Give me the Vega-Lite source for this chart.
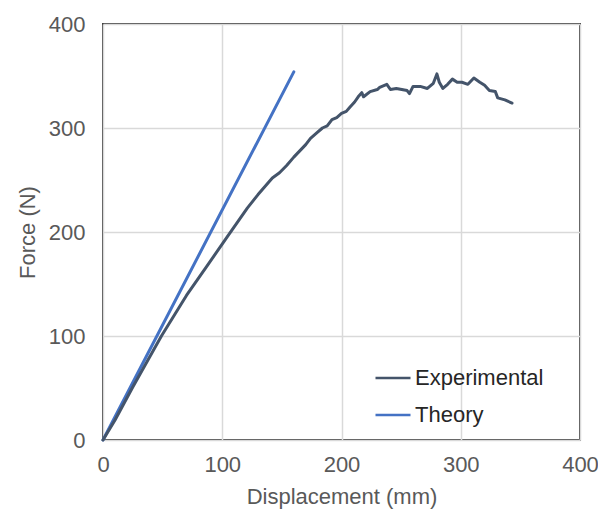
{
  "$schema": "https://vega.github.io/schema/vega-lite/v6.json",
  "width": 477,
  "height": 416,
  "autosize": {"type": "none"},
  "padding": {"left": 103, "top": 24, "right": 18, "bottom": 71},
  "background": "white",
  "config": {
    "font": "Liberation Sans",
    "view": {"stroke": "#404040", "strokeWidth": 2},
    "axis": {
      "gridColor": "#d9d9d9",
      "gridWidth": 1.5,
      "domain": false,
      "ticks": false,
      "labelFlush": false,
      "labelFont": "Liberation Sans",
      "labelFontSize": 22,
      "labelColor": "#595959",
      "titleFont": "Liberation Sans",
      "titleFontSize": 22,
      "titleFontWeight": "normal",
      "titleColor": "#595959"
    }
  },
  "data": {
    "values": [
      {"series": "Theory", "d": 0, "f": 0},
      {"series": "Theory", "d": 160, "f": 354},
      {"series": "Experimental", "d": 0, "f": 0},
      {"series": "Experimental", "d": 10, "f": 19},
      {"series": "Experimental", "d": 25, "f": 51},
      {"series": "Experimental", "d": 49, "f": 100},
      {"series": "Experimental", "d": 70, "f": 139},
      {"series": "Experimental", "d": 87, "f": 167},
      {"series": "Experimental", "d": 104, "f": 195},
      {"series": "Experimental", "d": 121, "f": 223},
      {"series": "Experimental", "d": 130, "f": 236},
      {"series": "Experimental", "d": 142, "f": 252},
      {"series": "Experimental", "d": 148, "f": 257},
      {"series": "Experimental", "d": 154, "f": 264},
      {"series": "Experimental", "d": 160, "f": 272},
      {"series": "Experimental", "d": 165, "f": 278},
      {"series": "Experimental", "d": 170, "f": 284},
      {"series": "Experimental", "d": 174, "f": 290},
      {"series": "Experimental", "d": 179, "f": 295},
      {"series": "Experimental", "d": 184, "f": 300},
      {"series": "Experimental", "d": 188, "f": 302},
      {"series": "Experimental", "d": 192, "f": 308},
      {"series": "Experimental", "d": 196, "f": 310},
      {"series": "Experimental", "d": 200, "f": 314},
      {"series": "Experimental", "d": 204, "f": 316},
      {"series": "Experimental", "d": 207, "f": 320},
      {"series": "Experimental", "d": 211, "f": 325},
      {"series": "Experimental", "d": 214, "f": 330},
      {"series": "Experimental", "d": 217, "f": 334},
      {"series": "Experimental", "d": 218.5, "f": 330},
      {"series": "Experimental", "d": 224, "f": 335},
      {"series": "Experimental", "d": 230, "f": 337},
      {"series": "Experimental", "d": 232, "f": 339},
      {"series": "Experimental", "d": 238, "f": 342},
      {"series": "Experimental", "d": 241, "f": 337},
      {"series": "Experimental", "d": 246, "f": 338},
      {"series": "Experimental", "d": 255, "f": 336},
      {"series": "Experimental", "d": 257, "f": 333},
      {"series": "Experimental", "d": 260, "f": 340},
      {"series": "Experimental", "d": 266, "f": 340},
      {"series": "Experimental", "d": 272, "f": 338},
      {"series": "Experimental", "d": 277, "f": 343},
      {"series": "Experimental", "d": 280, "f": 352},
      {"series": "Experimental", "d": 282, "f": 344},
      {"series": "Experimental", "d": 285, "f": 338},
      {"series": "Experimental", "d": 289, "f": 342},
      {"series": "Experimental", "d": 293, "f": 347},
      {"series": "Experimental", "d": 297, "f": 344},
      {"series": "Experimental", "d": 301, "f": 344},
      {"series": "Experimental", "d": 306, "f": 342},
      {"series": "Experimental", "d": 311, "f": 348},
      {"series": "Experimental", "d": 316, "f": 344},
      {"series": "Experimental", "d": 320, "f": 341},
      {"series": "Experimental", "d": 324, "f": 336},
      {"series": "Experimental", "d": 329, "f": 335},
      {"series": "Experimental", "d": 331, "f": 329},
      {"series": "Experimental", "d": 337, "f": 327},
      {"series": "Experimental", "d": 343, "f": 324}
    ]
  },
  "mark": {"type": "line", "strokeWidth": 3, "strokeJoin": "round", "strokeCap": "round"},
  "encoding": {
    "x": {
      "field": "d",
      "type": "quantitative",
      "title": "Displacement (mm)",
      "scale": {"domain": [0, 400], "nice": false},
      "axis": {"values": [0, 100, 200, 300, 400], "labelPadding": 14, "titlePadding": 11}
    },
    "y": {
      "field": "f",
      "type": "quantitative",
      "title": "Force (N)",
      "scale": {"domain": [0, 400], "nice": false},
      "axis": {"values": [0, 100, 200, 300, 400], "labelPadding": 18, "titlePadding": 9}
    },
    "color": {
      "field": "series",
      "type": "nominal",
      "scale": {"domain": ["Experimental", "Theory"], "range": ["#44546A", "#4472C4"]},
      "legend": {
        "title": null,
        "orient": "none",
        "legendX": 271,
        "legendY": 335,
        "symbolType": "stroke",
        "symbolSize": 1225,
        "symbolStrokeWidth": 2.5,
        "labelFont": "Liberation Sans",
        "labelFontSize": 22,
        "labelColor": "#262626",
        "labelOffset": 3,
        "rowPadding": 7
      }
    }
  }
}
